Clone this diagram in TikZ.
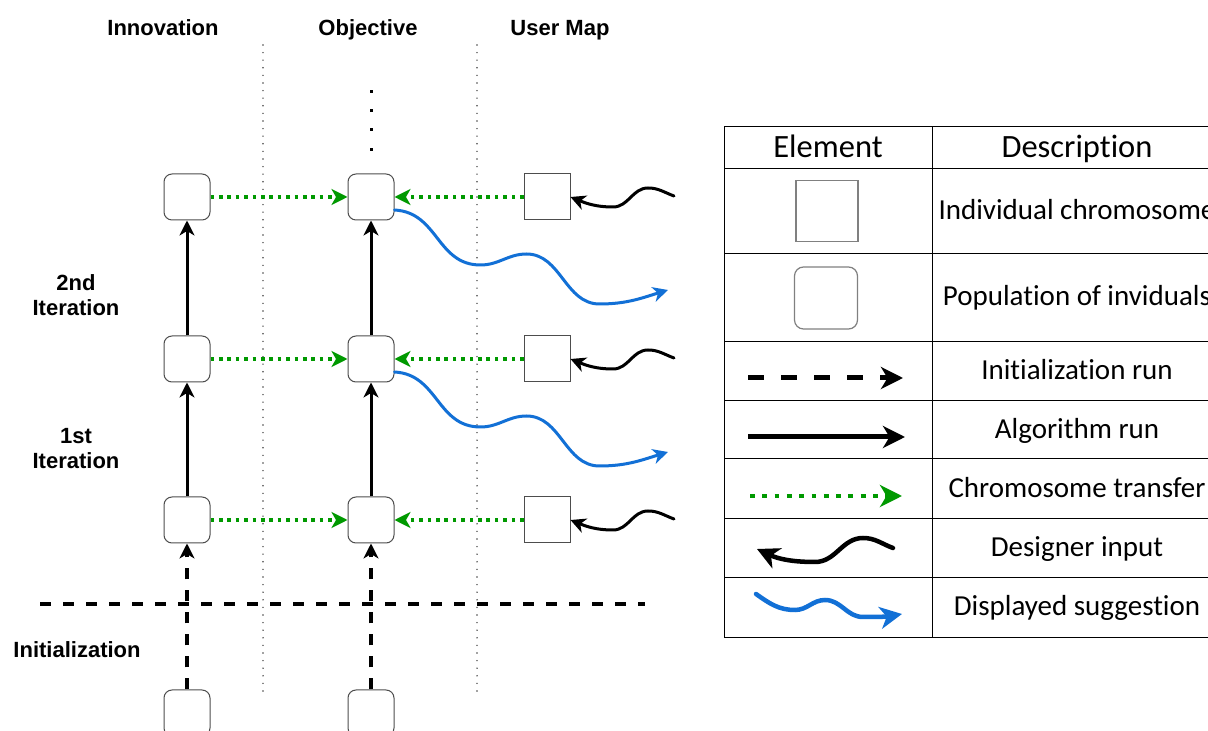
\documentclass[tikz,border=0pt]{standalone}
\usepackage{fontspec}
\setmainfont{Liberation Sans}
\newfontfamily\calib[RawFeature={-liga;-clig;-dlig;-calt}]{Carlito}
\usetikzlibrary{arrows.meta}
\definecolor{grn}{RGB}{0,153,0}
\definecolor{blu}{RGB}{18,112,214}
\definecolor{bord}{RGB}{77,77,77}
\definecolor{lgray}{RGB}{128,128,128}
\definecolor{sepc}{RGB}{70,70,70}
\begin{document}
\begin{tikzpicture}[x=1pt,y=1pt,
  pop/.style={draw=bord, line width=1pt, rounded corners=8pt, minimum width=46pt, minimum height=46pt, inner sep=0pt, fill=white},
  ind/.style={draw=bord, line width=1pt, minimum width=46pt, minimum height=46pt, inner sep=0pt, fill=white},
  lbl/.style={font=\fontsize{22}{25}\selectfont\bfseries, align=center, inner sep=0pt},
  tipm/.style={-{Stealth[length=15pt,width=15pt,inset=4.5pt]}},
  tipl/.style={-{Stealth[length=22pt,width=22pt,inset=6.5pt]}},
  algo/.style={tipm, line width=3pt},
  initr/.style={tipm, line width=3.5pt, dash pattern=on 11pt off 11pt},
  xfer/.style={-{Stealth[length=16pt,width=16pt,inset=4.5pt]}, grn, line width=3.6pt, dash pattern=on 3.6pt off 4.8pt},
  dinput/.style={tipm, line width=3pt, line cap=round},
  sugg/.style={tipm, blu, line width=3pt, line cap=round},
  sepline/.style={draw=sepc, line width=1.6pt, line cap=round, dash pattern=on 0pt off 7.6pt},
  cell/.style={font=\calib\fontsize{29}{33}\selectfont, text height=20pt, text depth=6pt, inner sep=0pt},
  head/.style={font=\calib\fontsize{32.5}{36}\selectfont, text height=22pt, text depth=7pt, inner sep=0pt},
]
\useasboundingbox (0,0) rectangle (1208,731);
\clip (0,0) rectangle (1208,731);
\fill[white] (0,0) rectangle (1208,731);

% column headers
\node[lbl, anchor=base] (hinn) at (163,695) {Innovation};
\node[lbl, anchor=base] (hobj) at (368,695) {Objective};
\node[lbl, anchor=base] (husr) at (560,695) {User Map};

% row labels
\node[lbl] (l2) at (76,435.5) {2nd\\Iteration};
\node[lbl] (l1) at (76,282) {1st\\Iteration};
\node[lbl] (l0) at (77,81) {Initialization};

% separators
\draw[sepline] (263,686) -- (263,40);
\draw[sepline] (477,686) -- (477,40);
\draw[line width=3.5pt, dash pattern=on 11pt off 12pt] (40,127) -- (645,127);

% continuation dots
\foreach \yy in {639,620,601,581} \fill (369.5,\yy-1.5) rectangle ++(3,3);

% population / individual nodes
\node[pop] (inn3) at (187,534) {};
\node[pop] (inn2) at (187,372) {};
\node[pop] (inn1) at (187,211) {};
\node[pop] (inn0) at (187,18) {};
\node[pop] (obj3) at (371,534) {};
\node[pop] (obj2) at (371,372) {};
\node[pop] (obj1) at (371,211) {};
\node[pop] (obj0) at (371,18) {};
\node[ind] (usr3) at (547,534) {};
\node[ind] (usr2) at (547,372) {};
\node[ind] (usr1) at (547,211) {};

% runs
\draw[initr] (inn0) -- (inn1);
\draw[initr] (obj0) -- (obj1);
\draw[algo] (inn1) -- (inn2);
\draw[algo] (inn2) -- (inn3);
\draw[algo] (obj1) -- (obj2);
\draw[algo] (obj2) -- (obj3);

% transfers
\foreach \r in {1,2,3}{
  \draw[xfer] (inn\r) -- (obj\r);
  \draw[xfer] (usr\r) -- (obj\r);
}

% designer inputs
\coordinate (d3) at (674,535);
\coordinate (d2) at (674,373);
\coordinate (d1) at (674,212);
\foreach \r in {1,2,3}{
  \draw[dinput] (d\r) to[out=160,in=0] ++(-26,8) to[out=180,in=0] ++(-35,-19) to[out=180,in=-22] (usr\r.east);
}

% displayed suggestions
\coordinate (s3) at (668,441);
\coordinate (s2) at (668,279);
\foreach \r in {2,3}{
  \draw[sugg] ([yshift=-13pt]obj\r.east) to[out=-3,in=180,looseness=1.1] ++(86,-55) to[out=0,in=180] ++(46,11) to[out=0,in=180] ++(73,-50) to[out=0,in=197] (s\r);
}

% legend table
\draw[line width=1pt] (724,604) rectangle (1223,93);
\foreach \yy in {562,477,389,330,272,212,153} \draw[line width=1pt] (724,\yy) -- (1223,\yy);
\draw[line width=1pt] (932,604) -- (932,93);

\node[head] (th1) at (828,581) {Element};
\node[head] (th2) at (1077,581) {Description};

\node[draw=lgray, line width=1.2pt, minimum width=62pt, minimum height=61pt, inner sep=0pt] (lind) at (827,520) {};
\node[draw=lgray, line width=1.2pt, rounded corners=9pt, minimum width=63pt, minimum height=62pt, inner sep=0pt] (lpop) at (826,433) {};

\coordinate (la1) at (748,353); \coordinate (la2) at (903,353);
\draw[tipl, line width=5pt, dash pattern=on 16pt off 17pt] (la1) -- (la2);
\coordinate (lb1) at (748,294); \coordinate (lb2) at (905,294);
\draw[tipl, line width=5pt] (lb1) -- (lb2);
\coordinate (lc1) at (750,235); \coordinate (lc2) at (902,235);
\draw[tipl, grn, line width=4.8pt, dash pattern=on 4.8pt off 7.5pt] (lc1) -- (lc2);
\coordinate (ld1) at (893,183); \coordinate (ld2) at (757,182);
\draw[tipl, line width=4.5pt, line cap=round] (ld1) to[out=160,in=0] (863,193) to[out=180,in=0] (815,169) to[out=180,in=-25] (ld2);
\coordinate (le1) at (756,137); \coordinate (le2) at (902,117);
\draw[tipl, blu, line width=4.5pt, line cap=round] (le1) to[out=-35,in=180] (795,121) to[out=0,in=180] (825,131) to[out=0,in=180] (863,114) to[out=0,in=190] (le2);

\node[cell] (t1) at (1077,518) {Individual chromosome};
\node[cell] (t2) at (1077,432) {Population of inviduals};
\node[cell] (t3) at (1077,358) {Initialization run};
\node[cell] (t4) at (1077,299) {Algorithm run};
\node[cell] (t5) at (1077,240) {Chromosome transfer};
\node[cell] (t6) at (1077,181) {Designer input};
\node[cell] (t7) at (1077,122) {Displayed suggestion};
\end{tikzpicture}
\end{document}
